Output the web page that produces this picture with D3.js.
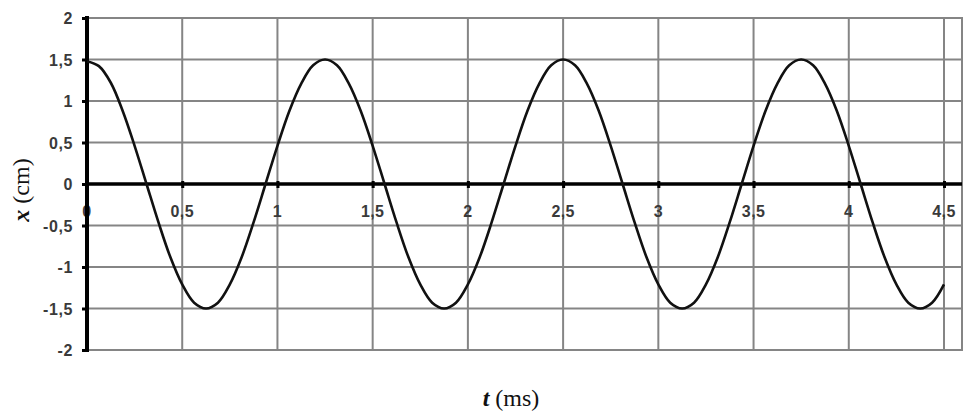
<!DOCTYPE html>
<html><head><meta charset="utf-8">
<script src="https://cdn.jsdelivr.net/npm/d3@7"></script>
<style>html,body{margin:0;padding:0;background:#fff;}svg{display:block;}</style>
</head><body>
<svg id="c" width="967" height="412"></svg>
<script>
// time samples (ms)
const times = [0,0.0625,0.125,0.1875,0.25,0.3125,0.375,0.4375,0.5,0.5625,0.625,0.6875,0.75,0.8125,0.875,0.9375,1,1.0625,1.125,1.1875,1.25,
1.3125,1.375,1.4375,1.5,1.5625,1.625,1.6875,1.75,1.8125,1.875,1.9375,2,2.0625,2.125,2.1875,2.25,2.3125,2.375,2.4375,2.5,
2.5625,2.625,2.6875,2.75,2.8125,2.875,2.9375,3,3.0625,3.125,3.1875,3.25,3.3125,3.375,3.4375,3.5,3.5625,3.625,3.6875,3.75,
3.8125,3.875,3.9375,4,4.0625,4.125,4.1875,4.25,4.3125,4.375,4.4375,4.5];
// displacement x (cm)
const xValues = [1.48,1.42,1.22,0.88,0.46,0,-0.46,-0.88,-1.21,-1.43,-1.5,-1.43,-1.21,-0.88,-0.46,0,0.46,0.88,1.21,1.43,1.5,
1.43,1.21,0.88,0.46,0,-0.46,-0.88,-1.21,-1.43,-1.5,-1.43,-1.21,-0.88,-0.46,0,0.46,0.88,1.21,1.43,1.5,
1.43,1.21,0.88,0.46,0,-0.46,-0.88,-1.21,-1.43,-1.5,-1.43,-1.21,-0.88,-0.46,0,0.46,0.88,1.21,1.43,1.5,
1.43,1.21,0.88,0.46,0,-0.46,-0.88,-1.21,-1.43,-1.5,-1.43,-1.21];
const xTicks = [0,0.5,1,1.5,2,2.5,3,3.5,4,4.5];
const xTickLabels = ["0","0,5","1","1,5","2","2,5","3","3,5","4","4,5"];
const yTicks = [-2,-1.5,-1,-0.5,0,0.5,1,1.5,2];
const yTickLabels = ["-2","-1,5","-1","-0,5","0","0,5","1","1,5","2"];

const svg = d3.select("#c");
const pLeft = 87, pRight = 962, pTop = 18, pBottom = 350;
const x = d3.scaleLinear().domain([0, 4.5]).range([pLeft, 944]);
const y = d3.scaleLinear().domain([-2, 2]).range([pBottom, pTop]);
const gridColor = "#858585";

// plot frame
svg.append("rect").attr("x", pLeft).attr("y", pTop).attr("width", pRight - pLeft).attr("height", pBottom - pTop)
  .attr("fill", "none").attr("stroke", gridColor).attr("stroke-width", 2);

// horizontal grid
svg.append("g").selectAll("line").data(yTicks).join("line")
  .attr("x1", pLeft).attr("x2", pRight).attr("y1", d => y(d)).attr("y2", d => y(d))
  .attr("stroke", gridColor).attr("stroke-width", 2);
// vertical grid
svg.append("g").selectAll("line").data(xTicks.slice(1)).join("line")
  .attr("x1", d => x(d)).attr("x2", d => x(d)).attr("y1", pTop).attr("y2", pBottom)
  .attr("stroke", gridColor).attr("stroke-width", 2);

// zero line (x axis)
const xAxis = d3.axisBottom(x).tickValues(xTicks).tickSize(4).tickFormat("");
const gx = svg.append("g").attr("transform", `translate(0,${y(0)})`).call(xAxis);
gx.select(".domain").remove();
gx.selectAll(".tick line").attr("stroke", "#000").attr("stroke-width", 3).attr("y1", -3);
svg.append("line").attr("x1", pLeft).attr("x2", pRight).attr("y1", y(0)).attr("y2", y(0))
  .attr("stroke", "#000").attr("stroke-width", 3.4);
svg.append("g").selectAll("text").data(xTicks).join("text")
  .attr("x", d => x(d)).attr("y", y(0) + 33).attr("text-anchor", "middle")
  .attr("font-family", "Liberation Sans, Arial, sans-serif").attr("font-size", 16).attr("font-weight", "bold")
  .attr("letter-spacing", 0.4).attr("fill", "#3a3a3a").text((d, i) => xTickLabels[i]);

// y axis
const yAxis = d3.axisLeft(y).tickValues(yTicks).tickSize(5).tickFormat((d, i) => yTickLabels[i]);
const gy = svg.append("g").attr("transform", `translate(${pLeft},0)`).call(yAxis);
gy.select(".domain").attr("stroke", "#000").attr("stroke-width", 4).attr("d", `M0,${pTop - 2}V${pBottom + 2}`);
gy.selectAll(".tick line").attr("stroke", "#000").attr("stroke-width", 3);
gy.selectAll(".tick text").attr("x", -14).attr("dy", "0.36em")
  .attr("font-family", "Liberation Sans, Arial, sans-serif").attr("font-size", 16).attr("font-weight", "bold")
  .attr("letter-spacing", 0.6).attr("fill", "#3a3a3a");

// curve
const pts = times.map((t, i) => [t, xValues[i]]);
svg.append("path").datum(pts)
  .attr("fill", "none").attr("stroke", "#111").attr("stroke-width", 2.6).attr("stroke-linejoin", "round")
  .attr("d", d3.line().x(d => x(d[0])).y(d => y(d[1])).curve(d3.curveCatmullRom));

// axis titles
const yt = svg.append("text").attr("transform", "translate(29,190) rotate(-90)").attr("text-anchor", "middle")
  .attr("font-family", "Liberation Serif, Times New Roman, serif").attr("font-size", 24).attr("fill", "#111");
yt.append("tspan").attr("font-style", "italic").attr("font-weight", "bold").text("x");
yt.append("tspan").text(" (cm)");
const xt = svg.append("text").attr("x", 511).attr("y", 406).attr("text-anchor", "middle")
  .attr("font-family", "Liberation Serif, Times New Roman, serif").attr("font-size", 24).attr("fill", "#111");
xt.append("tspan").attr("font-style", "italic").attr("font-weight", "bold").text("t");
xt.append("tspan").text(" (ms)");
</script>
</body></html>
